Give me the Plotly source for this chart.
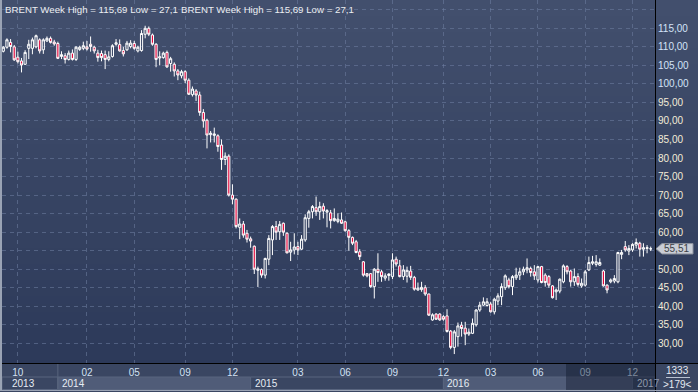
import plotly.graph_objects as go

# ---------------- data (weekly BRENT candles) ----------------
opens = [108.8, 109.9, 111.2, 110.0, 107.2, 106.2, 105.3, 109.6, 109.6, 110.0,
         111.9, 109.2, 111.6, 112.3, 111.3, 110.9, 107.4, 107.6, 106.6, 108.3,
         106.6, 109.3, 109.6, 110.0, 110.7, 109.9, 108.3, 108.2, 107.9, 106.6,
         107.4, 110.7, 110.6, 109.0, 109.2, 110.1, 110.9, 108.9, 109.0, 113.4,
         115.0, 113.2, 110.7, 107.0, 107.1, 108.5, 105.5, 105.3, 103.5, 102.2,
         103.3, 101.0, 97.1, 98.1, 97.0, 92.3, 90.2, 86.3, 86.1, 86.0,
         83.5, 79.6, 80.5, 70.0, 68.9, 61.3, 62.2, 59.7, 58.2, 56.2,
         49.7, 49.9, 48.4, 52.7, 57.9, 61.5, 60.1, 62.4, 59.7, 54.6,
         55.2, 56.1, 55.4, 57.9, 63.7, 65.5, 66.6, 65.5, 67.0, 65.4,
         65.2, 63.1, 62.9, 63.3, 62.8, 60.4, 58.6, 57.4, 54.7, 52.0,
         48.8, 48.8, 45.3, 50.0, 49.3, 47.6, 48.3, 48.0, 52.7, 50.9,
         48.0, 48.1, 49.5, 47.8, 44.4, 44.5, 45.0, 43.3, 36.3, 37.9,
         37.9, 37.2, 37.4, 33.3, 28.9, 31.8, 34.9, 34.1, 32.5, 32.7,
         35.0, 39.0, 40.3, 40.2, 40.6, 38.5, 41.4, 42.6, 45.0, 47.1,
         45.3, 47.7, 48.4, 49.3, 49.8, 50.2, 49.3, 47.1, 50.7, 48.4,
         48.0, 45.5, 43.9, 44.1, 46.6, 50.7, 49.5, 46.6, 48.0, 45.5,
         45.7, 49.8, 51.6, 51.3, 51.1, 49.5, 45.7, 46.6, 46.8, 46.6,
         54.0, 56.1, 54.9, 55.2, 56.5, 57.0, 55.4, 55.6, 55.5]
highs = [110.2, 112.3, 112.1, 110.5, 108.7, 107.0, 109.1, 111.9, 112.5, 113.3,
         112.3, 112.3, 112.8, 112.8, 111.9, 111.4, 108.8, 108.3, 109.0, 109.3,
         110.2, 110.3, 111.4, 111.6, 112.8, 110.3, 109.2, 109.0, 109.0, 108.8,
         110.7, 112.1, 112.0, 110.0, 111.6, 111.8, 111.6, 110.3, 114.5, 115.69,
         115.5, 113.6, 111.0, 108.8, 108.7, 109.0, 107.3, 105.8, 104.0, 103.8,
         103.7, 101.5, 99.3, 98.6, 97.9, 93.2, 90.6, 87.3, 88.2, 86.4,
         85.0, 81.5, 81.0, 72.9, 69.1, 63.7, 63.0, 60.6, 58.8, 56.4,
         50.7, 50.2, 53.1, 59.2, 61.9, 63.0, 63.0, 62.6, 60.0, 57.4,
         59.7, 57.4, 59.2, 64.8, 66.0, 67.3, 69.6, 68.2, 67.8, 66.2,
         66.0, 66.4, 65.1, 65.3, 63.1, 60.8, 58.8, 57.9, 55.4, 52.2,
         48.9, 48.9, 50.3, 54.3, 49.8, 48.9, 48.9, 54.3, 53.4, 52.5,
         51.1, 50.7, 50.9, 48.2, 46.4, 46.6, 45.7, 43.4, 38.1, 38.1,
         38.1, 37.6, 39.2, 33.6, 33.6, 35.6, 35.8, 35.8, 34.0, 36.7,
         39.2, 41.2, 42.4, 42.2, 41.2, 42.3, 43.5, 46.2, 48.6, 47.7,
         48.4, 50.4, 50.4, 50.7, 52.9, 50.7, 51.1, 50.9, 50.9, 48.9,
         48.4, 45.7, 44.8, 47.5, 51.3, 51.1, 49.8, 50.2, 48.9, 47.5,
         49.8, 53.4, 53.6, 53.8, 52.9, 49.8, 45.9, 47.5, 48.4, 54.7,
         55.2, 57.6, 56.5, 57.0, 58.3, 57.4, 57.0, 56.5, 56.1]
lows = [108.5, 109.5, 108.5, 106.2, 105.5, 103.1, 105.1, 106.7, 108.0, 109.6,
        108.2, 108.1, 111.3, 110.9, 110.3, 106.7, 106.7, 105.5, 106.3, 106.3,
        106.2, 108.9, 109.1, 109.0, 108.7, 108.2, 106.0, 106.1, 104.0, 106.1,
        107.1, 110.3, 108.7, 107.4, 108.9, 109.6, 109.2, 108.5, 108.7, 112.3,
        112.9, 110.3, 104.5, 105.0, 106.8, 104.3, 103.3, 102.0, 101.0, 101.5,
        100.2, 97.0, 96.6, 95.4, 91.4, 88.2, 82.6, 84.2, 84.2, 81.7,
        76.8, 78.1, 69.6, 67.5, 61.0, 58.1, 58.5, 57.2, 55.8, 48.7,
        45.2, 47.7, 47.5, 51.1, 53.8, 57.9, 57.9, 59.0, 54.3, 52.2,
        54.0, 53.8, 55.2, 57.4, 61.2, 63.7, 64.4, 63.3, 63.7, 61.3,
        61.0, 62.8, 62.4, 62.2, 60.1, 55.0, 56.5, 54.3, 52.5, 48.0,
        47.8, 45.0, 42.1, 46.6, 46.6, 46.9, 46.9, 47.3, 50.7, 47.8,
        47.1, 46.4, 47.1, 44.2, 44.2, 43.9, 42.8, 37.4, 36.1, 36.3,
        36.1, 36.1, 32.9, 28.4, 27.1, 29.1, 31.8, 29.5, 32.0, 32.5,
        34.5, 38.5, 40.1, 39.9, 38.3, 37.8, 40.3, 40.3, 44.4, 44.8,
        43.0, 47.1, 47.1, 48.4, 48.9, 48.0, 47.1, 46.4, 46.2, 45.3,
        45.0, 42.1, 41.7, 43.5, 46.2, 48.6, 45.3, 45.5, 45.3, 45.0,
        45.3, 49.5, 51.1, 50.7, 50.9, 45.3, 43.5, 46.2, 46.2, 46.2,
        52.7, 54.7, 53.8, 54.7, 55.6, 53.4, 53.4, 54.3, 54.9]
closes = [109.9, 111.9, 110.1, 106.5, 106.0, 105.1, 108.5, 110.7, 111.9, 113.0,
          108.9, 111.9, 112.3, 111.2, 110.8, 106.9, 107.9, 106.6, 108.3, 106.6,
          109.9, 109.9, 110.3, 109.4, 110.1, 108.9, 107.1, 107.1, 106.6, 107.3,
          110.3, 111.1, 108.9, 108.1, 111.0, 111.0, 109.6, 109.9, 113.6, 115.0,
          113.4, 110.7, 106.6, 107.3, 108.3, 104.6, 106.8, 103.5, 102.4, 103.3,
          101.0, 97.2, 98.6, 97.0, 92.3, 90.0, 86.2, 86.7, 86.5, 83.1,
          79.6, 80.5, 70.0, 68.9, 61.5, 62.2, 59.2, 58.1, 57.6, 50.0,
          50.1, 48.4, 52.9, 58.3, 61.5, 60.0, 62.1, 60.0, 54.4, 55.2,
          56.0, 55.2, 58.1, 63.9, 65.5, 66.9, 65.5, 66.9, 65.7, 65.8,
          63.1, 63.7, 63.5, 62.4, 60.4, 58.6, 57.0, 54.5, 53.4, 48.4,
          48.2, 45.3, 50.0, 49.1, 48.0, 48.2, 48.7, 52.5, 51.4, 48.0,
          49.8, 49.7, 47.8, 44.6, 44.9, 45.1, 43.3, 37.6, 37.7, 36.5,
          36.3, 36.5, 33.2, 28.9, 33.1, 34.7, 34.0, 32.5, 33.0, 35.4,
          39.0, 40.3, 41.2, 41.2, 38.5, 41.9, 42.8, 45.3, 48.2, 45.3,
          48.0, 48.4, 49.3, 50.0, 50.4, 49.1, 48.2, 50.7, 46.4, 46.4,
          45.7, 42.3, 44.4, 47.3, 50.9, 49.3, 46.6, 48.0, 45.9, 46.2,
          49.3, 51.8, 52.0, 52.0, 51.8, 45.5, 44.4, 47.1, 47.5, 54.5,
          54.5, 55.2, 55.6, 56.7, 57.2, 55.4, 55.8, 55.8, 55.51]
assert len(opens) == len(highs) == len(lows) == len(closes) == 179

weeks = list(range(len(closes)))

month_tick_idx = [4, 23, 36, 50, 63, 81, 94, 107, 121, 134, 147, 160, 173]
month_tick_txt = ["10", "02", "05", "09", "12", "03", "06", "09", "12", "03", "06", "09", "12"]
year_labels = ["2013", "2014", "2015", "2016", "2017"]
year_start_idx = [-0.36, 15, 68, 121, 173]

price_ticks = [30, 35, 40, 45, 50, 55, 60, 65, 70, 75, 80, 85, 90, 95, 100, 105, 110, 115, 120]
hidden_ticks = [55, 120]   # 55 is covered by the last-price tag, 120 has no label
last_price = 55.51
last_price_text = "55,51"
title_text = "BRENT Week High = 115,69 Low = 27,1"

# ---------------- geometry helpers (pixels -> paper) ----------------
W, H = 698, 392
ML, MR, MT, MB = 2, 43, 0, 29
PW, PH = W - ML - MR, H - MT - MB


def px_x(px):
    return (px - ML) / PW


def px_y(py):
    return (H - MB - py) / PH


FONT = "Liberation Sans, Arial, sans-serif"
shapes = []

# background gradient
top_c, bot_c = (66, 79, 109), (43, 56, 88)
nb = 49
for j in range(nb):
    t = j / (nb - 1)
    c = tuple(round(top_c[k] + (bot_c[k] - top_c[k]) * t) for k in range(3))
    shapes.append(dict(type="rect", xref="paper", yref="paper",
                       x0=px_x(-2), x1=px_x(W + 2), y0=px_y(j * 8), y1=px_y(j * 8 + 8.5),
                       line=dict(width=0), fillcolor="rgb(%d,%d,%d)" % c, layer="below"))

# bottom time-axis panel
shapes.append(dict(type="rect", xref="paper", yref="paper", x0=px_x(-2), x1=px_x(W + 2),
                   y0=px_y(363), y1=px_y(H + 2), line=dict(width=0), fillcolor="#3a4662", layer="below"))
band_edges = year_start_idx[1:] + [179.2]
for i, (a, b) in enumerate(zip(year_start_idx, band_edges)):
    col = "#505c78" if i in (1, 3) else "#3a4662"
    shapes.append(dict(type="rect", xref="x", yref="paper", x0=max(a, -0.36), x1=b,
                       y0=px_y(377), y1=px_y(389.5), line=dict(width=1, color="#58647e"),
                       fillcolor=col, layer="below"))
shapes.append(dict(type="line", xref="x", yref="paper", x0=15, x1=15,
                   y0=px_y(363), y1=px_y(390), line=dict(width=1, color="#58647e"), layer="below"))
# darker scroll window at right of time axis
shapes.append(dict(type="rect", xref="paper", yref="paper", x0=px_x(566), x1=px_x(655),
                   y0=px_y(363), y1=px_y(390), line=dict(width=0),
                   fillcolor="rgba(18,26,46,0.45)", layer="above"))
# bottom-right info box
shapes.append(dict(type="rect", xref="paper", yref="paper", x0=px_x(655), x1=px_x(W + 2),
                   y0=px_y(363), y1=px_y(390), line=dict(width=0), fillcolor="#3a4662", layer="above"))
shapes.append(dict(type="line", xref="paper", yref="paper", x0=px_x(666), x1=px_x(690),
                   y0=px_y(377.5), y1=px_y(377.5), line=dict(width=1, color="#b8c2d2"), layer="above"))
# frame lines
shapes.append(dict(type="line", xref="paper", yref="paper", x0=px_x(-2), x1=px_x(W + 2),
                   y0=px_y(363.5), y1=px_y(363.5), line=dict(width=1, color="#000000"), layer="above"))
shapes.append(dict(type="line", xref="paper", yref="paper", x0=px_x(655.5), x1=px_x(655.5),
                   y0=px_y(0), y1=px_y(H), line=dict(width=1, color="#000000"), layer="above"))
shapes.append(dict(type="line", xref="paper", yref="paper", x0=px_x(-2), x1=px_x(W + 2),
                   y0=px_y(390.5), y1=px_y(390.5), line=dict(width=1, color="#9aa3b4"), layer="above"))
shapes.append(dict(type="line", xref="paper", yref="paper", x0=px_x(1), x1=px_x(1),
                   y0=px_y(0), y1=px_y(391), line=dict(width=2, color="#9aa3b4"), layer="above"))

# last price tag
half = 1.4
xa, xb, xc = px_x(656), px_x(662), px_x(693)
shapes.append(dict(type="path", xref="paper", yref="y",
                   path="M %f,%f L %f,%f L %f,%f L %f,%f L %f,%f Z" % (
                       xa, last_price, xb, last_price + half, xc, last_price + half,
                       xc, last_price - half, xb, last_price - half),
                   fillcolor="#c9cdd5", line=dict(width=1, color="#8c929e"), layer="above"))

# ---------------- figure ----------------
fig = go.Figure()
fig.add_trace(go.Candlestick(
    x=weeks, open=opens, high=highs, low=lows, close=closes,
    increasing=dict(line=dict(color="#ffffff", width=1), fillcolor="rgba(0,0,0,0)"),
    decreasing=dict(line=dict(color="#ffffff", width=1), fillcolor="#e3073c"),
    whiskerwidth=0, showlegend=False, hoverinfo="skip"))

grid_col = "rgba(112,128,162,0.55)"
ytext = []
for v in price_ticks:
    if v in hidden_ticks:
        ytext.append("")
    elif v >= 100:
        ytext.append('<span style="color:#d3e3f8">%d,00</span>' % v)
    else:
        ytext.append('<span style="color:#f3ecd8">%d,00</span>' % v)

fig.update_layout(
    width=W, height=H, autosize=False,
    margin=dict(l=ML, r=MR, t=MT, b=MB, pad=0),
    paper_bgcolor="#2e3a58", plot_bgcolor="rgba(0,0,0,0)",
    font=dict(family=FONT, size=9.5, color="#dfe6f0"),
    shapes=shapes,
    xaxis=dict(range=[-0.36, 179.18], tickmode="array", tickvals=month_tick_idx,
               ticktext=month_tick_txt, tickfont=dict(color="#d2e1f3", size=10, family=FONT),
               showgrid=True, gridcolor=grid_col, griddash="4px,4px", gridwidth=1,
               zeroline=False, showline=False, ticks="", ticklabelstandoff=2,
               rangeslider=dict(visible=False), fixedrange=True),
    yaxis=dict(range=[24.69, 122.64], side="right", tickmode="array", tickvals=price_ticks,
               ticktext=ytext, tickfont=dict(size=10, family=FONT),
               showgrid=True, gridcolor=grid_col, griddash="4px,4px", gridwidth=1,
               zeroline=False, showline=False, ticks="", ticklabelstandoff=2, fixedrange=True),
    boxgap=0.15,
)

ann = []
ann.append(dict(text=title_text, xref="paper", yref="paper", x=px_x(3), y=px_y(9),
                xanchor="left", yanchor="middle", showarrow=False,
                font=dict(color="#eceef2", size=9.7, family=FONT)))
ann.append(dict(text=title_text, xref="paper", yref="paper", x=px_x(179), y=px_y(9),
                xanchor="left", yanchor="middle", showarrow=False,
                font=dict(color="#eceef2", size=9.7, family=FONT)))
for lab, st in zip(year_labels, year_start_idx):
    dim = lab == "2017"
    ann.append(dict(text=lab, xref="x", yref="paper", x=max(st, 1.2), y=px_y(383.5),
                    xanchor="left", yanchor="middle", showarrow=False, xshift=2,
                    font=dict(color="#8e98ab" if dim else "#e6ecf4", size=10, family=FONT)))
ann.append(dict(text=last_price_text, xref="paper", yref="y",
                x=px_x(662), y=last_price, xanchor="left", yanchor="middle", showarrow=False,
                font=dict(color="#3c3f46", size=10, family=FONT)))
ann.append(dict(text="1333", xref="paper", yref="paper", x=px_x(677), y=px_y(370.5),
                xanchor="center", yanchor="middle", showarrow=False,
                font=dict(color="#e4eaf2", size=10, family=FONT)))
ann.append(dict(text="&gt;179&lt;", xref="paper", yref="paper", x=px_x(677), y=px_y(384),
                xanchor="center", yanchor="middle", showarrow=False,
                font=dict(color="#e4eaf2", size=10, family=FONT)))
fig.update_layout(annotations=ann)

fig.write_html("out.html")
